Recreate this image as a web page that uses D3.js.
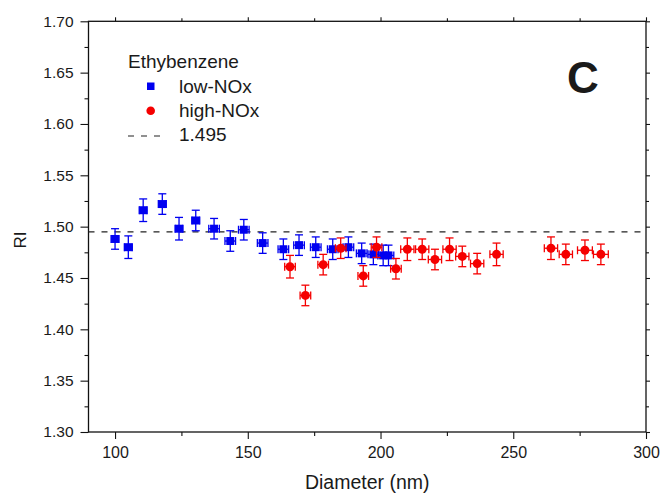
<!DOCTYPE html>
<html>
<head>
<meta charset="utf-8">
<script src="https://cdn.jsdelivr.net/npm/d3@7"></script>
<style>
  html, body { margin: 0; padding: 0; background: #fff; }
  svg { display: block; }
  text { font-family: "Liberation Sans", Arial, sans-serif; fill: #1a1a1a; }
</style>
</head>
<body>
<svg id="chart" width="661" height="495"></svg>
<script>
// Refractive index vs. mobility diameter, ethylbenzene SOA
const lowDiam  = [100.0, 105.0, 110.6, 117.8, 124.1, 130.4, 137.3, 143.4, 148.5, 155.6,
                  163.4, 169.3, 175.6, 182.0, 187.9, 192.9, 197.3, 201.0, 203.0];
const lowRI    = [1.488, 1.480, 1.516, 1.522, 1.498, 1.506, 1.498, 1.486, 1.497, 1.484,
                  1.478, 1.482, 1.480, 1.478, 1.480, 1.474, 1.473, 1.472, 1.472];
const lowRIErr = [0.010, 0.011, 0.011, 0.010, 0.011, 0.010, 0.010, 0.010, 0.010, 0.010,
                  0.010, 0.010, 0.010, 0.010, 0.010, 0.010, 0.010, 0.010, 0.010];
const lowDErr  = [1.5, 1.5, 1.5, 1.5, 1.5, 1.5, 2.0, 2.0, 2.0, 2.0,
                  2.0, 2.0, 2.0, 2.0, 2.0, 2.0, 2.0, 2.0, 2.0];

const highDiam  = [165.9, 171.7, 178.4, 185.0, 193.5, 198.5, 205.8, 210.1, 215.7, 220.5,
                   226.0, 230.8, 236.4, 243.7, 264.2, 269.8, 277.0, 283.0];
const highRI    = [1.461, 1.433, 1.463, 1.479, 1.452, 1.480, 1.459, 1.478, 1.478, 1.468,
                   1.478, 1.471, 1.464, 1.473, 1.479, 1.473, 1.477, 1.473];
const highRIErr = [0.011, 0.010, 0.010, 0.010, 0.010, 0.010, 0.010, 0.011, 0.010, 0.010,
                   0.011, 0.010, 0.010, 0.011, 0.011, 0.010, 0.010, 0.010];
const highDErr  = [2.0, 2.0, 2.0, 2.0, 2.0, 2.0, 2.0, 2.5, 2.5, 2.5,
                   2.5, 2.5, 2.5, 2.5, 2.5, 2.5, 2.8, 2.8];

const refRI = 1.495;

const xMajor = [100, 150, 200, 250, 300];
const xMinor = [125, 175, 225, 275];
const yMajor = [1.30, 1.35, 1.40, 1.45, 1.50, 1.55, 1.60, 1.65, 1.70];
const yMinor = [1.325, 1.375, 1.425, 1.475, 1.525, 1.575, 1.625, 1.675];

const legendTitle = "Ethybenzene";
const seriesNames = ["low-NOx", "high-NOx"];
const refLabel = "1.495";
const panelLetter = "C";

const BLUE = "#0000f0", RED = "#f50000";

const svg = d3.select("#chart");
const plotLeft = 88.5, plotRight = 646, plotTop = 21.3, plotBottom = 432;

const x = d3.scaleLinear().domain([90, 300]).range([plotLeft, plotRight]);
const y = d3.scaleLinear().domain([1.30, 1.70]).range([plotBottom, plotTop]);

// ---- axes ----
function styleAxis(g) {
  g.select(".domain").remove();
  g.selectAll(".tick line").attr("stroke", "#111").attr("stroke-width", 1.1);
}

svg.append("g").attr("transform", `translate(0,${plotBottom})`)
  .call(d3.axisBottom(x).tickValues(xMajor).tickSize(7).tickPadding(8).tickFormat(d3.format("d")))
  .call(styleAxis)
  .call(g => g.selectAll("text").attr("font-size", 16).attr("font-family", "Liberation Sans, Arial").attr("fill", "#1a1a1a"));
svg.append("g").attr("transform", `translate(0,${plotBottom})`)
  .call(d3.axisBottom(x).tickValues(xMinor).tickSize(4).tickFormat(""))
  .call(styleAxis);
svg.append("g").attr("transform", `translate(0,${plotTop})`)
  .call(d3.axisTop(x).tickValues(xMajor).tickSize(4).tickFormat(""))
  .call(styleAxis);
svg.append("g").attr("transform", `translate(0,${plotTop})`)
  .call(d3.axisTop(x).tickValues(xMinor).tickSize(3).tickFormat(""))
  .call(styleAxis);

svg.append("g").attr("transform", `translate(${plotLeft},0)`)
  .call(d3.axisLeft(y).tickValues(yMajor).tickSize(8).tickPadding(7).tickFormat(d3.format(".2f")))
  .call(styleAxis)
  .call(g => g.selectAll("text").attr("font-size", 15.5).attr("font-family", "Liberation Sans, Arial").attr("fill", "#1a1a1a"));
svg.append("g").attr("transform", `translate(${plotLeft},0)`)
  .call(d3.axisLeft(y).tickValues(yMinor).tickSize(4).tickFormat(""))
  .call(styleAxis);
svg.append("g").attr("transform", `translate(${plotRight},0)`)
  .call(d3.axisRight(y).tickValues(yMajor).tickSize(4).tickFormat(""))
  .call(styleAxis);
svg.append("g").attr("transform", `translate(${plotRight},0)`)
  .call(d3.axisRight(y).tickValues(yMinor).tickSize(3).tickFormat(""))
  .call(styleAxis);

// plot frame
svg.append("rect")
  .attr("x", plotLeft).attr("y", plotTop)
  .attr("width", plotRight - plotLeft).attr("height", plotBottom - plotTop)
  .attr("fill", "none").attr("stroke", "#111").attr("stroke-width", 1.3);

// axis titles
svg.append("text")
  .attr("x", (plotLeft + plotRight) / 2).attr("y", 489)
  .attr("text-anchor", "middle").attr("font-size", 19.5)
  .text("Diameter (nm)");
svg.append("text")
  .attr("transform", "translate(26,240) rotate(-90)")
  .attr("text-anchor", "middle").attr("font-size", 17)
  .text("RI");

// reference line
svg.append("line")
  .attr("x1", plotLeft).attr("x2", plotRight)
  .attr("y1", y(refRI)).attr("y2", y(refRI))
  .attr("stroke", "#222").attr("stroke-width", 1.2)
  .attr("stroke-dasharray", "6,7");

// ---- error bars + markers ----
function drawSeries(diam, ri, riErr, dErr, color, shape) {
  const g = svg.append("g");
  const cap = 4;
  diam.forEach((d, i) => {
    const cx = x(d), cy = y(ri[i]);
    const y0 = y(ri[i] - riErr[i]), y1 = y(ri[i] + riErr[i]);
    const x0 = x(d - dErr[i]), x1 = x(d + dErr[i]);
    const eg = g.append("g").attr("stroke", color).attr("stroke-width", 1.3).attr("fill", "none");
    eg.append("line").attr("x1", cx).attr("x2", cx).attr("y1", y0).attr("y2", y1);
    eg.append("line").attr("x1", cx - cap).attr("x2", cx + cap).attr("y1", y0).attr("y2", y0);
    eg.append("line").attr("x1", cx - cap).attr("x2", cx + cap).attr("y1", y1).attr("y2", y1);
    eg.append("line").attr("x1", x0).attr("x2", x1).attr("y1", cy).attr("y2", cy);
    eg.append("line").attr("x1", x0).attr("x2", x0).attr("y1", cy - cap).attr("y2", cy + cap);
    eg.append("line").attr("x1", x1).attr("x2", x1).attr("y1", cy - cap).attr("y2", cy + cap);
  });
  if (shape === "square") {
    g.selectAll("rect.m").data(diam).join("rect").attr("class", "m")
      .attr("x", (d) => x(d) - 4).attr("y", (d, i) => y(ri[i]) - 4)
      .attr("width", 8).attr("height", 8).attr("fill", color);
  } else {
    g.selectAll("circle.m").data(diam).join("circle").attr("class", "m")
      .attr("cx", (d) => x(d)).attr("cy", (d, i) => y(ri[i]))
      .attr("r", 4.5).attr("fill", color);
  }
}

drawSeries(lowDiam, lowRI, lowRIErr, lowDErr, BLUE, "square");
drawSeries(highDiam, highRI, highRIErr, highDErr, RED, "circle");

// ---- legend ----
const lg = svg.append("g");
lg.append("text").attr("x", 128).attr("y", 68).attr("font-size", 19).text(legendTitle);
lg.append("rect").attr("x", 147).attr("y", 82.5).attr("width", 7.5).attr("height", 7.5).attr("fill", BLUE);
lg.append("text").attr("x", 179).attr("y", 93).attr("font-size", 19).text(seriesNames[0]);
lg.append("circle").attr("cx", 150.7).attr("cy", 110.7).attr("r", 4.3).attr("fill", RED);
lg.append("text").attr("x", 179).attr("y", 117).attr("font-size", 19).text(seriesNames[1]);
lg.append("line").attr("x1", 128).attr("x2", 164).attr("y1", 136).attr("y2", 136)
  .attr("stroke", "#222").attr("stroke-width", 1.2).attr("stroke-dasharray", "6,7");
lg.append("text").attr("x", 179).attr("y", 141).attr("font-size", 19).text(refLabel);

// panel letter
svg.append("text").attr("x", 567).attr("y", 93).attr("font-size", 44)
  .attr("font-weight", "bold").attr("fill", "#000").text(panelLetter);
</script>
</body>
</html>
